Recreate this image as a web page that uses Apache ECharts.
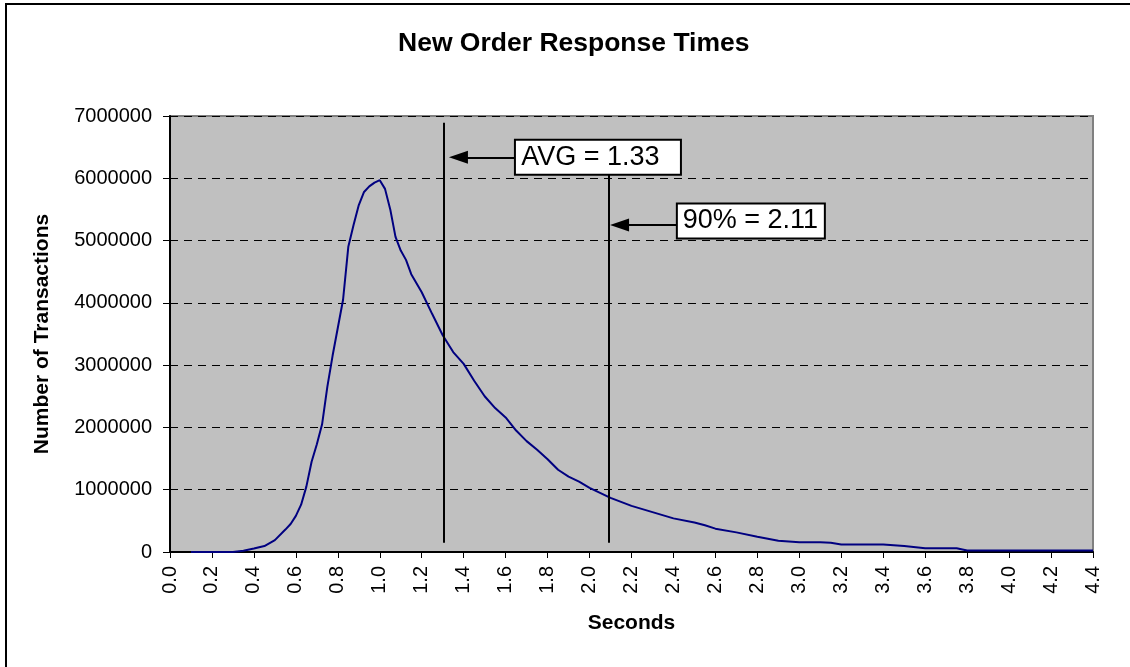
<!DOCTYPE html>
<html>
<head>
<meta charset="utf-8">
<title>New Order Response Times</title>
<script src="https://cdn.jsdelivr.net/npm/echarts@6/dist/echarts.min.js"></script>
<style>
  html, body { margin: 0; padding: 0; background: #fff; }
  #main { width: 1130px; height: 667px; }
</style>
</head>
<body>
<div id="main"></div>
<script>
// response time distribution
var seconds = [0.10, 0.20, 0.30, 0.35, 0.40, 0.45, 0.50, 0.55, 0.575, 0.60, 0.625, 0.65, 0.675, 0.70,
  0.725, 0.75, 0.775, 0.80, 0.825, 0.85, 0.875, 0.90, 0.925, 0.95, 0.975, 1.00, 1.025, 1.05, 1.075,
  1.10, 1.125, 1.15, 1.20, 1.25, 1.30, 1.35, 1.40, 1.45, 1.50, 1.55, 1.60, 1.65, 1.70, 1.75, 1.80,
  1.85, 1.90, 1.95, 2.00, 2.05, 2.10, 2.20, 2.30, 2.40, 2.50, 2.55, 2.60, 2.70, 2.80, 2.90, 3.00,
  3.10, 3.15, 3.20, 3.40, 3.50, 3.60, 3.75, 3.80, 4.40];
var transactions = [0, 0, 0, 20000, 55000, 95000, 190000, 360000, 450000, 580000, 760000, 1050000, 1450000, 1730000,
  2050000, 2650000, 3150000, 3600000, 4050000, 4900000, 5250000, 5570000, 5780000, 5870000, 5930000, 5970000, 5830000, 5500000, 5060000,
  4840000, 4690000, 4460000, 4170000, 3820000, 3480000, 3210000, 3020000, 2750000, 2500000, 2310000, 2160000, 1950000, 1780000, 1640000, 1490000,
  1320000, 1210000, 1130000, 1030000, 950000, 870000, 740000, 640000, 540000, 475000, 430000, 375000, 315000, 245000, 180000, 155000,
  155000, 150000, 120000, 120000, 95000, 60000, 60000, 25000, 25000];

var avgLabel = 'AVG = 1.33';
var pctLabel = '90% = 2.11';

var chartDom = document.getElementById('main');
var myChart = echarts.init(chartDom);

var lineData = [];
for (var i = 0; i < seconds.length; i++) {
  lineData.push([seconds[i], transactions[i]]);
}

// white boxes with the annotation text
function boxLabel(text, w, padRight) {
  return {
    show: true,
    position: 'inside',
    formatter: text,
    fontSize: 27,
    color: '#000',
    align: 'center',
    verticalAlign: 'middle',
    backgroundColor: '#fff',
    borderColor: '#000',
    borderWidth: 2,
    width: w,
    height: 29,
    lineHeight: 29,
    padding: [3, padRight, 1, 6]
  };
}

var option = {
  animation: false,
  backgroundColor: '#fff',
  textStyle: { fontFamily: 'Liberation Sans, Arial, sans-serif' },
  title: {
    text: 'New Order Response Times',
    left: 393,
    top: 25,
    textStyle: { fontSize: 26.5, fontWeight: 'bold', color: '#000', fontFamily: 'Liberation Sans' }
  },
  graphic: [{
    type: 'rect',
    shape: { x: 6, y: 4, width: 1300, height: 900 },
    style: { fill: 'none', stroke: '#000', lineWidth: 2 },
    silent: true
  }],
  grid: {
    left: 170,
    right: 37,
    top: 116,
    bottom: 115,
    show: true,
    backgroundColor: '#c0c0c0',
    borderColor: '#808080',
    borderWidth: 2
  },
  xAxis: {
    type: 'value',
    min: 0,
    max: 4.4,
    interval: 0.2,
    name: 'Seconds',
    nameLocation: 'middle',
    nameGap: 61,
    nameTextStyle: { fontSize: 21, fontWeight: 'bold', color: '#000' },
    axisLine: { show: true, onZero: false, lineStyle: { color: '#000', width: 2 } },
    axisTick: { show: true, length: 6, lineStyle: { color: '#000' } },
    axisLabel: {
      rotate: 90,
      margin: 14,
      fontSize: 20,
      color: '#000',
      formatter: function (v) { return v.toFixed(1); }
    },
    splitLine: { show: false }
  },
  yAxis: {
    type: 'value',
    min: 0,
    max: 7000000,
    interval: 1000000,
    name: 'Number of Transactions',
    nameLocation: 'middle',
    nameGap: 117,
    nameTextStyle: { fontSize: 21, fontWeight: 'bold', color: '#000' },
    axisLine: { show: true, lineStyle: { color: '#000', width: 2 } },
    axisTick: { show: true, length: 7, lineStyle: { color: '#000' } },
    axisLabel: { margin: 18, fontSize: 20, color: '#000', formatter: function (v) { return String(v); } },
    splitLine: { show: true, lineStyle: { color: '#000', type: [8, 6], width: 1 } }
  },
  series: [{
    name: 'Transactions',
    type: 'line',
    data: lineData,
    showSymbol: false,
    lineStyle: { color: '#000080', width: 2 },
    itemStyle: { color: '#000080' },
    z: 3,
    markLine: {
      silent: true,
      symbol: 'none',
      label: { show: false },
      lineStyle: { color: '#000', width: 2, type: 'solid' },
      data: [
        [{ coord: [1.305, 150000], symbol: 'none' }, { coord: [1.305, 6890000], symbol: 'none' }],
        [{ coord: [2.09, 150000], symbol: 'none' }, { coord: [2.09, 6068000], symbol: 'none' }],
        [{ coord: [1.648, 6336000], symbol: 'none' }, { coord: [1.375, 6336000], symbol: 'triangle', symbolSize: [13, 19] }],
        [{ coord: [2.42, 5250000], symbol: 'none' }, { coord: [2.143, 5250000], symbol: 'triangle', symbolSize: [13, 19] }]
      ]
    },
    markPoint: {
      silent: true,
      symbol: 'circle',
      symbolSize: 1,
      itemStyle: { color: 'rgba(0,0,0,0)' },
      data: [
        { coord: [2.04, 6336000], label: boxLabel(avgLabel, 137, 21) },
        { coord: [2.769, 5314000], label: boxLabel(pctLabel, 133, 7) }
      ]
    }
  }]
};

myChart.setOption(option);
</script>
</body>
</html>
